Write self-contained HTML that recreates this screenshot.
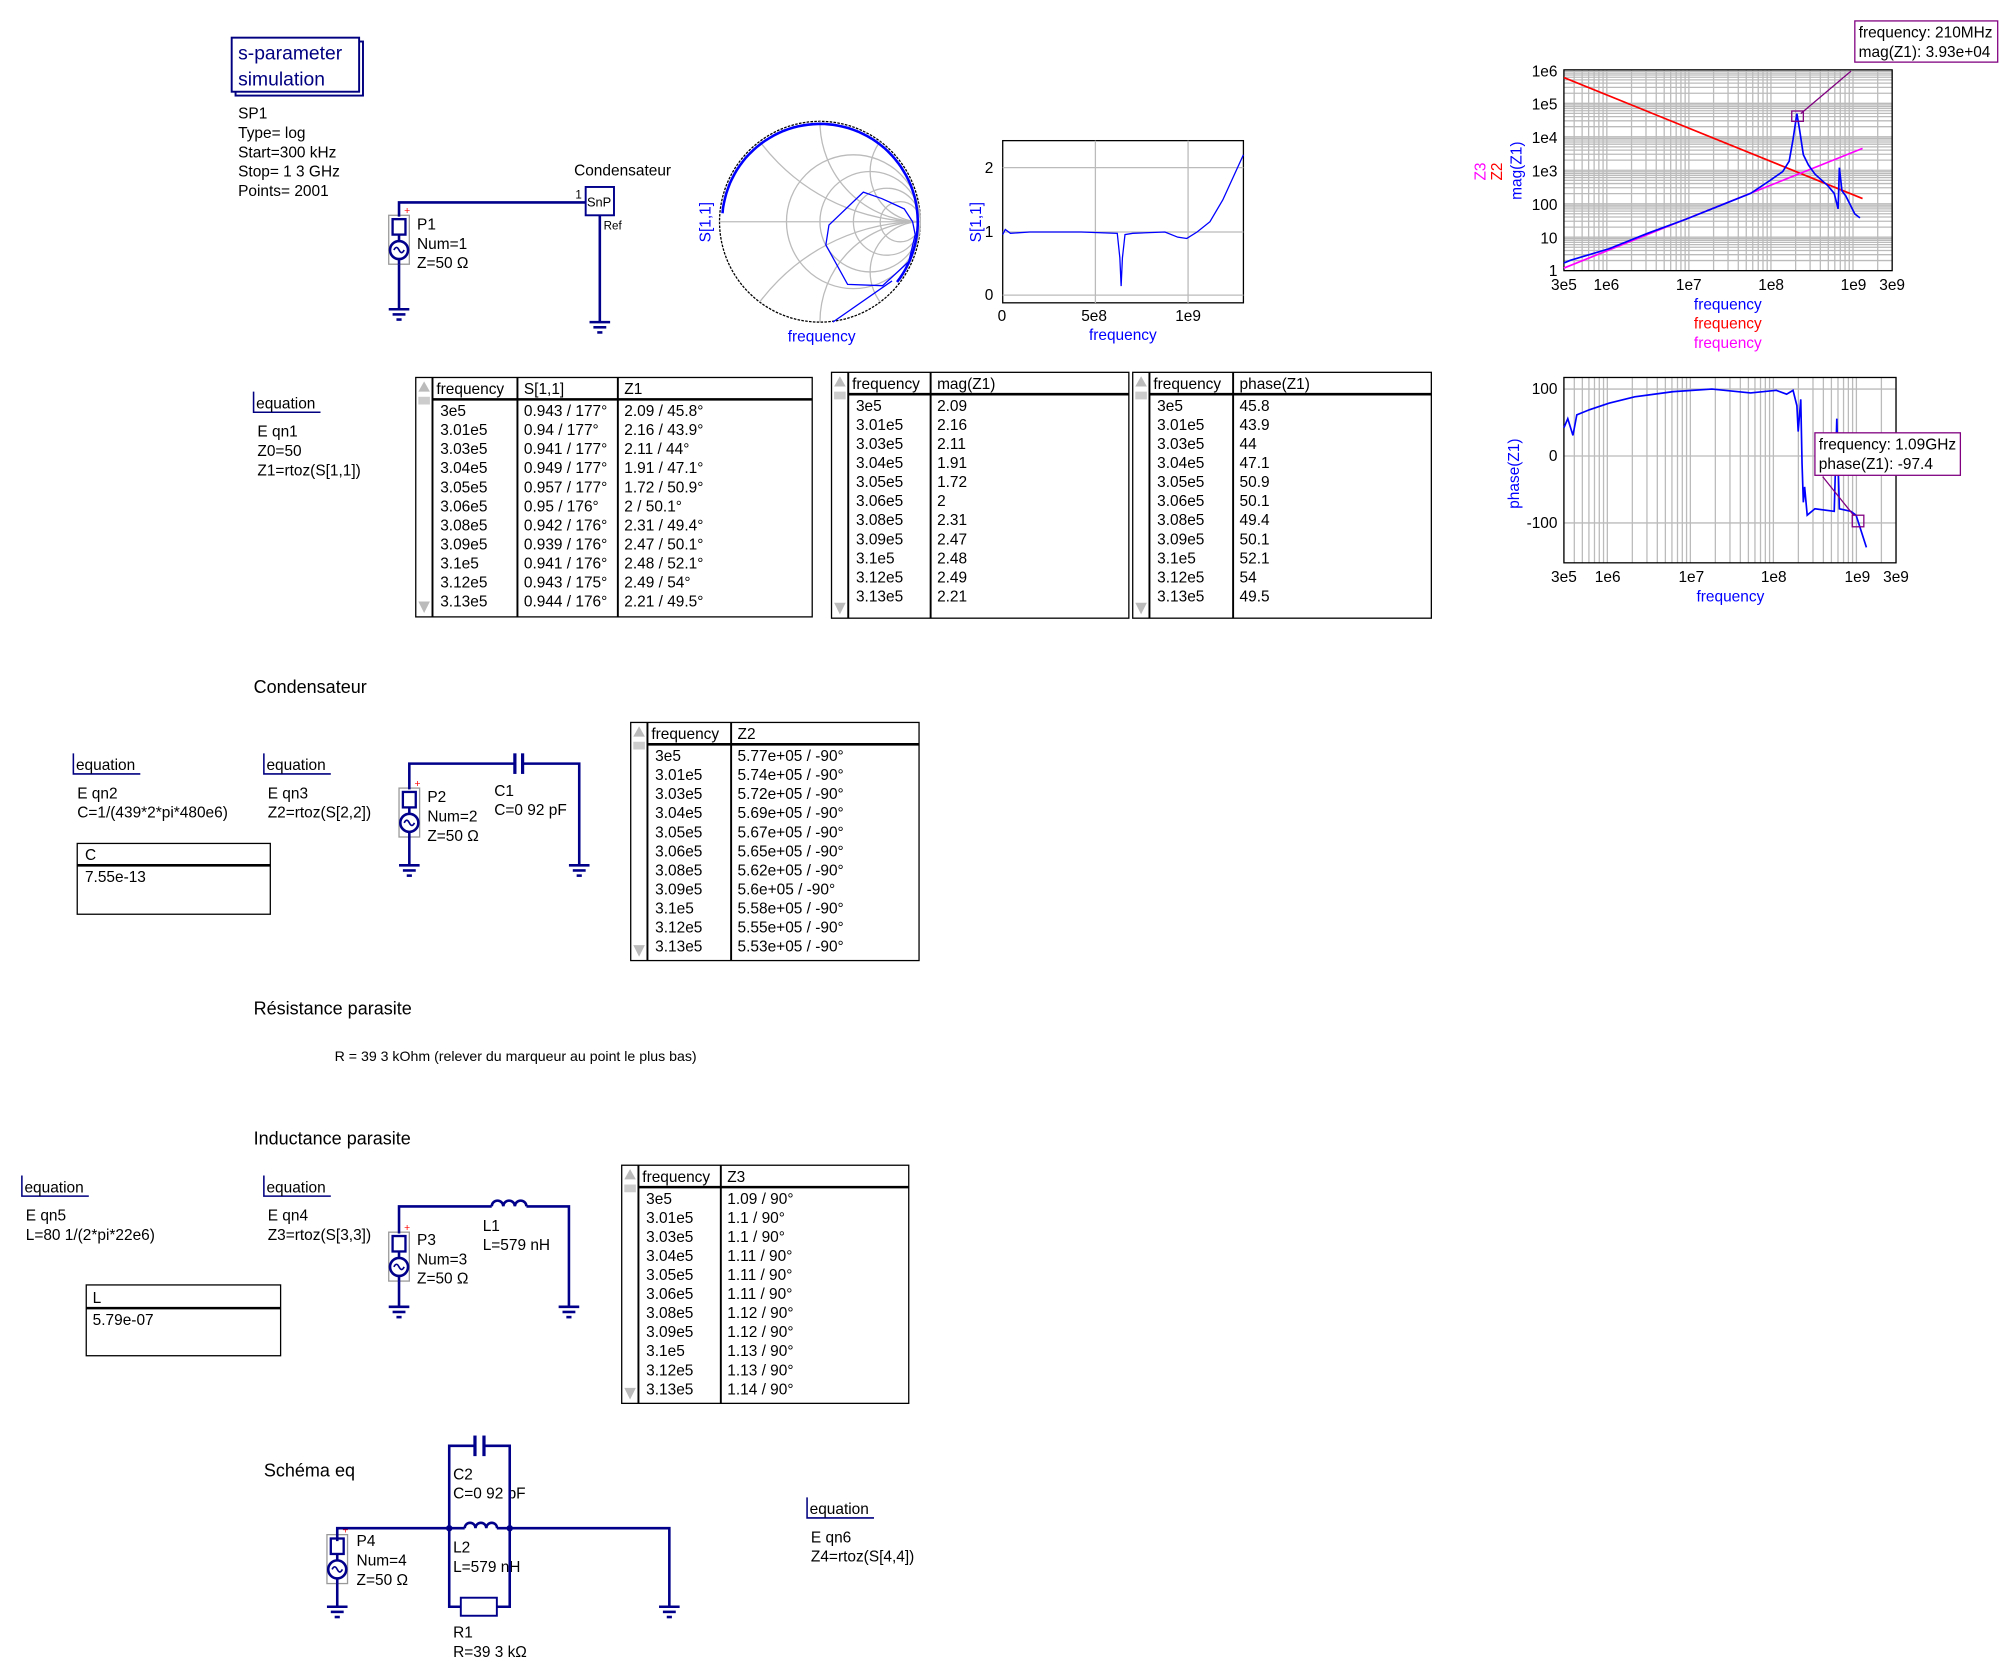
<!DOCTYPE html>
<html><head><meta charset="utf-8"><style>
html,body{margin:0;padding:0;background:#fff;}
svg{display:block;}
text{font-family:"Liberation Sans",Arial,sans-serif;font-size:12px;fill:#000;}
.b{fill:#0000ff}.r{fill:#ff0000}.m{fill:#ff00ff}.n{fill:#000080}
.w{stroke:#00008b;stroke-width:2;fill:none}
.g{stroke:#bbb;stroke-width:1;fill:none}
</style></head><body>
<svg id="s" width="2008" height="1674" viewBox="0 0 1560 1300" xmlns="http://www.w3.org/2000/svg">
<rect width="1560" height="1300" fill="#fff"/>
<rect x="183" y="32" width="99" height="42" fill="none" stroke="#000080" stroke-width="1.5"/>
<rect x="180" y="29" width="99" height="42" fill="#fff" stroke="#000080" stroke-width="1.5"/>
<text x="185" y="46" class="n" style="font-size:15px">s-parameter</text>
<text x="185" y="66" class="n" style="font-size:15px">simulation</text>
<text x="185" y="92">SP1</text><text x="185" y="107">Type= log</text><text x="185" y="122">Start=300 kHz</text><text x="185" y="137">Stop= 1 3 GHz</text><text x="185" y="152">Points= 2001</text>
<text x="446" y="136">Condensateur</text>
<g id="gen"></g>
<text x="324" y="178">P1</text><text x="324" y="193">Num=1</text><text x="324" y="208">Z=50 Ω</text>
<rect x="455" y="145" width="22" height="22" fill="#fff" stroke="#00008b" stroke-width="1.5"/>
<text x="456" y="160" style="font-size:10px">SnP</text><text x="447" y="154" style="font-size:9px">1</text><text x="469" y="178" style="font-size:9px">Ref</text>
<polyline class="w" points="310,168 310,157 455,157"/><line class="w" x1="466" y1="167" x2="466" y2="250"/>

<g id="smith"></g>
<text x="552" y="188" class="b" transform="rotate(-90 552 188)">S[1,1]</text>
<text x="612" y="265" class="b">frequency</text>
<g id="rc"></g>
<text x="762" y="188" class="b" transform="rotate(-90 762 188)">S[1,1]</text>
<text x="846" y="264" class="b">frequency</text>
<g id="mag"></g>
<text x="1154" y="140" class="m" transform="rotate(-90 1154 140)">Z3</text>
<text x="1167" y="140" class="r" transform="rotate(-90 1167 140)">Z2</text>
<text x="1182" y="155" class="b" transform="rotate(-90 1182 155)">mag(Z1)</text>
<text x="1316" y="240" class="b">frequency</text><text x="1316" y="255" class="r">frequency</text><text x="1316" y="270" class="m">frequency</text>
<rect x="1441" y="16" width="111" height="32" fill="#fff" stroke="#800080"/>
<text x="1444" y="29">frequency: 210MHz</text><text x="1444" y="44">mag(Z1): 3.93e+04</text>
<line x1="1399" y1="88" x2="1438" y2="55" stroke="#800080"/>
<g id="ph"></g>
<text x="1180" y="395" class="b" transform="rotate(-90 1180 395)">phase(Z1)</text>
<text x="1318" y="467" class="b">frequency</text>
<rect x="1410" y="336" width="113" height="33" fill="#fff" stroke="#800080"/>
<text x="1413" y="349">frequency: 1.09GHz</text><text x="1413" y="364">phase(Z1): -97.4</text>
<line x1="1416" y1="370" x2="1440" y2="400" stroke="#800080"/>

<g id="tables"></g>
<g id="eqs"></g>

<text x="197" y="538" style="font-size:14px">Condensateur</text>
<text x="384" y="618">C1</text><text x="384" y="633">C=0 92 pF</text>
<text x="332" y="623">P2</text><text x="332" y="638">Num=2</text><text x="332" y="653">Z=50 Ω</text>
<polyline class="w" points="318,613 318,593 400,593"/><polyline class="w" points="406,593 450,593 450,672"/>
<line x1="400" y1="585" x2="400" y2="601" stroke="#00008b" stroke-width="2.5"/><line x1="406" y1="585" x2="406" y2="601" stroke="#00008b" stroke-width="2.5"/>

<text x="197" y="788" style="font-size:14px">Résistance parasite</text>
<text x="260" y="824" style="font-size:11px">R = 39 3 kOhm (relever du marqueur au point le plus bas)</text>
<text x="197" y="889" style="font-size:14px">Inductance parasite</text>
<text x="375" y="956">L1</text><text x="375" y="971">L=579 nH</text>
<text x="324" y="967">P3</text><text x="324" y="982">Num=3</text><text x="324" y="997">Z=50 Ω</text>
<polyline class="w" points="310,958 310,937 382,937"/><polyline class="w" points="409,937 442,937 442,1015"/>
<path class="w" d="M382,937 a4.5,4.5 0 0 1 9,0 a4.5,4.5 0 0 1 9,0 a4.5,4.5 0 0 1 9,0"/>

<text x="205" y="1147" style="font-size:14px">Schéma eq</text>
<text x="352" y="1149">C2</text><text x="352" y="1164">C=0 92 pF</text>
<text x="352" y="1206">L2</text><text x="352" y="1221">L=579 nH</text>
<text x="352" y="1272">R1</text><text x="352" y="1287">R=39 3 kΩ</text>
<text x="277" y="1201">P4</text><text x="277" y="1216">Num=4</text><text x="277" y="1231">Z=50 Ω</text>
<polyline class="w" points="349,1187 349,1123 369,1123"/><polyline class="w" points="376,1123 396,1123 396,1187"/>
<line x1="369" y1="1115" x2="369" y2="1131" stroke="#00008b" stroke-width="2.5"/><line x1="376" y1="1115" x2="376" y2="1131" stroke="#00008b" stroke-width="2.5"/>
<polyline class="w" points="262,1197 262,1187 361,1187"/><polyline class="w" points="386,1187 520,1187 520,1248"/>
<path class="w" d="M361,1187 a4.2,4.2 0 0 1 8.4,0 a4.2,4.2 0 0 1 8.4,0 a4.2,4.2 0 0 1 8.4,0"/>
<polyline class="w" points="349,1187 349,1248 358,1248"/><polyline class="w" points="386,1248 396,1248 396,1187"/>
<rect x="358" y="1241" width="28" height="14" fill="#fff" stroke="#00008b" stroke-width="1.5"/>
<circle cx="349" cy="1187" r="2.5" fill="#00008b"/><circle cx="396" cy="1187" r="2.5" fill="#00008b"/>
</svg>
<script>
function add(id,h){document.getElementById(id).insertAdjacentHTML('beforeend',h);}
function gnd(x,y){return `<line class="w" x1="${x-8}" y1="${y}" x2="${x+8}" y2="${y}"/><line class="w" x1="${x-5}" y1="${y+4}" x2="${x+5}" y2="${y+4}"/><line class="w" x1="${x-2}" y1="${y+8}" x2="${x+2}" y2="${y+8}"/>`;}
function src(x,y){
 return `<rect x="${x-8}" y="${y}" width="16" height="38" fill="none" stroke="#999"/><rect x="${x-5}" y="${y+3}" width="10" height="12" fill="#fff" stroke="#00008b" stroke-width="1.8"/><line class="w" x1="${x}" y1="${y+15}" x2="${x}" y2="${y+20}"/><circle cx="${x}" cy="${y+27}" r="7" fill="#fff" stroke="#00008b" stroke-width="2"/><path d="M${x-4},${y+27} q2,-4 4,0 q2,4 4,0" fill="none" stroke="#00008b" stroke-width="1.3"/><text x="${x+4}" y="${y-1}" style="font-size:8px;fill:red">+</text><line class="w" x1="${x}" y1="${y+34}" x2="${x}" y2="${y+38}"/>`;}
let h='';
h+=src(310,167)+`<line class="w" x1="310" y1="205" x2="310" y2="240"/>`+gnd(310,240)+gnd(466,250);
h+=src(318,612)+`<line class="w" x1="318" y1="650" x2="318" y2="672"/>`+gnd(318,672)+gnd(450,672);
h+=src(310,957)+`<line class="w" x1="310" y1="995" x2="310" y2="1015"/>`+gnd(310,1015)+gnd(442,1015);
h+=src(262,1192)+`<line class="w" x1="262" y1="1230" x2="262" y2="1248"/>`+gnd(262,1248)+gnd(520,1248);
add('gen',h);
{let cx=637,cy=172,R=78,s='';
s+=`<circle cx="${cx}" cy="${cy}" r="${R}" fill="none" stroke="#000" stroke-dasharray="2,1"/>`;
[0.5,1,2,4].forEach(r=>{let rr=R/(1+r);s+=`<circle class="g" cx="${cx+R-rr}" cy="${cy}" r="${rr}"/>`;});
s+=`<line class="g" x1="${cx-R}" y1="${cy}" x2="${cx+R}" y2="${cy}"/>`;
[0.5,1,2].forEach(x=>{let rr=R/x;s+=`<clipPath id="c${x}"><circle cx="${cx}" cy="${cy}" r="${R}"/></clipPath><circle class="g" clip-path="url(#c${x})" cx="${cx+R}" cy="${cy-rr}" r="${rr}"/><circle class="g" clip-path="url(#c${x})" cx="${cx+R}" cy="${cy+rr}" r="${rr}"/>`;});
let p=[];for(let a=175;a>=-40;a-=3){let t=a*Math.PI/180;p.push((cx+(R-2)*Math.cos(t)).toFixed(1)+','+(cy-(R-2)*Math.sin(t)).toFixed(1));}
s+=`<polyline points="${p.join(' ')}" fill="none" stroke="#0000ff" stroke-width="2"/>`;
let q=[[72,0],[65.5,-10],[48,-18],[33.7,-23],[7,2.6],[4.6,18],[21.5,48.7],[48.7,49.7],[69,31],[74,10],[72,0]].map(v=>(cx+v[0])+','+(cy+v[1]));
s+=`<polyline points="${q.join(' ')}" fill="none" stroke="#0000ff" stroke-width="1"/><line x1="${cx+56}" y1="${cy+46}" x2="${cx+10}" y2="${cy+78}" stroke="#0000ff"/>`;
add('smith',s);}
{let s='',x0=779,x1=966,y0=109,y1=235;
s+=`<rect x="${x0}" y="${y0}" width="${x1-x0}" height="${y1-y0}" fill="none" stroke="#000"/>`;
[851,923].forEach(x=>s+=`<line class="g" x1="${x}" y1="${y0}" x2="${x}" y2="${y1}"/>`);
[130,180,229].forEach(y=>s+=`<line class="g" x1="${x0}" y1="${y}" x2="${x1}" y2="${y}"/>`);
s+=`<text x="765" y="134">2</text><text x="765" y="184">1</text><text x="765" y="233">0</text><text x="775" y="249">0</text><text x="840" y="249">5e8</text><text x="913" y="249">1e9</text>`;
s+=`<polyline points="779,182 781,178 785,181 800,180 840,180 868,181 870,200 871,222 872,200 874,182 880,181 905,180 915,184 922,185 930,180 940,172 950,155 966,120" fill="none" stroke="#0000ff"/>`;
add('rc',s);}
function logGrid(x0,x1,y0,y1,xdec0,xdec1,ydecs,ylin){let s='';const L=[2,3,4,5,6,7,8,9].map(Math.log10);
let span=xdec1-xdec0;const X=v=>x0+(v-xdec0)/span*(x1-x0);
for(let d=Math.floor(xdec0);d<=Math.ceil(xdec1);d++){[0].concat(L).forEach(l=>{let v=d+l;if(v>=xdec0&&v<=xdec1){let x=X(v);s+=`<line class="g" x1="${x}" y1="${y0}" x2="${x}" y2="${y1}"/>`;}});}
if(ydecs){let n=ydecs,hh=(y1-y0)/n;for(let d=0;d<n;d++){[0].concat(L).forEach(l=>{let y=y1-(d+l)*hh;s+=`<line class="g" x1="${x0}" y1="${y}" x2="${x1}" y2="${y}"/>`;});}}
if(ylin)ylin.forEach(y=>s+=`<line class="g" x1="${x0}" y1="${y}" x2="${x1}" y2="${y}"/>`);
s+=`<rect x="${x0}" y="${y0}" width="${x1-x0}" height="${y1-y0}" fill="none" stroke="#000"/>`;return s;}
{let s=logGrid(1215,1470,54,210,Math.log10(3e5),Math.log10(3e9),6);
[['1e6',59],['1e5',85],['1e4',111],['1e3',137],['100',163],['10',189],['1',214]].forEach(a=>s+=`<text x="1210" y="${a[1]}" text-anchor="end">${a[0]}</text>`);
[['3e5',1215],['1e6',1248],['1e7',1312],['1e8',1376],['1e9',1440],['3e9',1470]].forEach(a=>s+=`<text x="${a[1]}" y="225" text-anchor="middle">${a[0]}</text>`);
s+=`<line x1="1215" y1="60" x2="1447" y2="154" stroke="#ff0000" stroke-width="1.3"/><line x1="1215" y1="208" x2="1447" y2="115" stroke="#ff00ff" stroke-width="1.3"/>`;
s+=`<polyline points="1215,204 1220,202 1230,199 1250,193 1280,181 1310,170 1340,158 1360,150 1375,140 1385,133 1390,125 1393,108 1396,88 1398,100 1401,120 1405,128 1410,135 1420,144 1425,150 1428,162 1429,130 1431,148 1434,152 1438,160 1441,166 1445,169" fill="none" stroke="#0000ff" stroke-width="1.3"/>`;
s+=`<rect x="1392" y="86" width="9" height="8" fill="none" stroke="#800080"/>`;
add('mag',s);}
{let s=logGrid(1215,1473,293,437,Math.log10(3e5),Math.log10(3e9),0,[302,354,406]);
[['100',306],['0',358],['-100',410]].forEach(a=>s+=`<text x="1210" y="${a[1]}" text-anchor="end">${a[0]}</text>`);
[['3e5',1215],['1e6',1249],['1e7',1314],['1e8',1378],['1e9',1443],['3e9',1473]].forEach(a=>s+=`<text x="${a[1]}" y="452" text-anchor="middle">${a[0]}</text>`);
s+=`<polyline points="1215,332 1218,325 1222,338 1225,322 1235,318 1250,313 1270,308 1300,304 1330,302 1360,305 1380,303 1388,306 1393,303 1396,315 1397,335 1399,310 1400,360 1401,390 1402,378 1404,400 1410,395 1425,397 1427,325 1429,395 1438,397 1442,400 1450,425" fill="none" stroke="#0000ff" stroke-width="1.3"/>`;
s+=`<rect x="1439" y="400" width="9" height="9" fill="none" stroke="#800080"/>`;
add('ph',s);}
function table(x0,y0,w,h,cols,head,rows,base,hh){let s=`<rect x="${x0}" y="${y0}" width="${w}" height="${h}" fill="#fff" stroke="#000"/>`;
s+=`<line x1="${x0+13}" y1="${y0}" x2="${x0+13}" y2="${y0+h}" stroke="#000" stroke-width="1.5"/>`;
s+=`<path d="M${x0+2},${y0+11} l4.5,-8 l4.5,8z" fill="#bbb"/><rect x="${x0+2}" y="${y0+15}" width="9" height="6" fill="#ccc"/><path d="M${x0+2},${y0+h-12} l4.5,9 l4.5,-9z" fill="#bbb"/>`;
s+=`<line x1="${x0+13}" y1="${y0+hh}" x2="${x0+w}" y2="${y0+hh}" stroke="#000" stroke-width="2"/>`;
cols.forEach(c=>s+=`<line x1="${c}" y1="${y0}" x2="${c}" y2="${y0+h}" stroke="#000" stroke-width="1.5"/>`);
let xs=[x0+16].concat(cols.map(c=>c+5));
head.forEach((t,i)=>s+=`<text x="${xs[i]}" y="${y0+hh-4}">${t}</text>`);
rows.forEach((r,j)=>r.forEach((t,i)=>s+=`<text x="${xs[i]+(i==0?3:0)}" y="${base+j*14.8}">${t}</text>`));return s;}
const F=['3e5','3.01e5','3.03e5','3.04e5','3.05e5','3.06e5','3.08e5','3.09e5','3.1e5','3.12e5','3.13e5'];
const S11=['0.943 / 177°','0.94 / 177°','0.941 / 177°','0.949 / 177°','0.957 / 177°','0.95 / 176°','0.942 / 176°','0.939 / 176°','0.941 / 176°','0.943 / 175°','0.944 / 176°'];
const Z1=['2.09 / 45.8°','2.16 / 43.9°','2.11 / 44°','1.91 / 47.1°','1.72 / 50.9°','2 / 50.1°','2.31 / 49.4°','2.47 / 50.1°','2.48 / 52.1°','2.49 / 54°','2.21 / 49.5°'];
const M=['2.09','2.16','2.11','1.91','1.72','2','2.31','2.47','2.48','2.49','2.21'];
const P=['45.8','43.9','44','47.1','50.9','50.1','49.4','50.1','52.1','54','49.5'];
const Z2=['5.77e+05 / -90°','5.74e+05 / -90°','5.72e+05 / -90°','5.69e+05 / -90°','5.67e+05 / -90°','5.65e+05 / -90°','5.62e+05 / -90°','5.6e+05 / -90°','5.58e+05 / -90°','5.55e+05 / -90°','5.53e+05 / -90°'];
const Z3=['1.09 / 90°','1.1 / 90°','1.1 / 90°','1.11 / 90°','1.11 / 90°','1.11 / 90°','1.12 / 90°','1.12 / 90°','1.13 / 90°','1.13 / 90°','1.14 / 90°'];
let t='';
t+=table(323,293,308,186,[402,480],['frequency','S[1,1]','Z1'],F.map((f,i)=>[f,S11[i],Z1[i]]),323,17);
t+=table(646,289,231,191,[723],['frequency','mag(Z1)'],F.map((f,i)=>[f,M[i]]),319,17);
t+=table(880,289,232,191,[958],['frequency','phase(Z1)'],F.map((f,i)=>[f,P[i]]),319,17);
t+=table(490,561,224,185,[568],['frequency','Z2'],F.map((f,i)=>[f,Z2[i]]),591,17);
t+=table(483,905,223,185,[560],['frequency','Z3'],F.map((f,i)=>[f,Z3[i]]),935,17);
t+=`<rect x="60" y="655" width="150" height="55" fill="#fff" stroke="#000"/><line x1="60" y1="672" x2="210" y2="672" stroke="#000" stroke-width="2"/><text x="66" y="668">C</text><text x="66" y="685">7.55e-13</text>`;
t+=`<rect x="67" y="998" width="151" height="55" fill="#fff" stroke="#000"/><line x1="67" y1="1016" x2="218" y2="1016" stroke="#000" stroke-width="2"/><text x="72" y="1012">L</text><text x="72" y="1029">5.79e-07</text>`;
add('tables',t);
function eq(x,y,lines){let s=`<polyline points="${x},${y-13} ${x},${y+3} ${x+52},${y+3}" fill="none" stroke="#000080" stroke-width="1.2"/><text x="${x+2}" y="${y}">equation</text>`;
lines.forEach((l,i)=>s+=`<text x="${x+3}" y="${y+22+i*15}">${l}</text>`);return s;}
let e='';
e+=eq(197,317,['E qn1','Z0=50','Z1=rtoz(S[1,1])']);
e+=eq(57,598,['E qn2','C=1/(439*2*pi*480e6)']);
e+=eq(205,598,['E qn3','Z2=rtoz(S[2,2])']);
e+=eq(17,926,['E qn5','L=80 1/(2*pi*22e6)']);
e+=eq(205,926,['E qn4','Z3=rtoz(S[3,3])']);
e+=eq(627,1176,['E qn6','Z4=rtoz(S[4,4])']);
add('eqs',e);
</script>
</body></html>
